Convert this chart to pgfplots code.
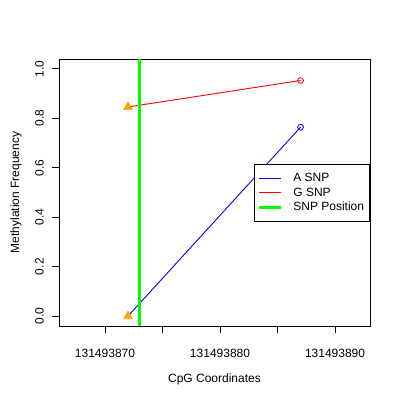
\documentclass[border=0pt]{standalone}
\usepackage{fontspec}
\setmainfont{Liberation Sans}
\usepackage{pgfplots}
\pgfplotsset{compat=1.18}
\definecolor{rorange}{HTML}{FFA500}
\definecolor{snpgreen}{HTML}{00FF00}
\definecolor{rblue}{HTML}{0000FF}
\definecolor{rred}{HTML}{FF0000}
% x values are given as offsets from 131493860 (TeX's floats cannot hold 9 digits)
\begin{document}
\fontsize{12bp}{14bp}\selectfont
\begin{tikzpicture}
\path[use as bounding box, fill=white] (0,0) rectangle (400bp,400bp);
\begin{axis}[
  at={(59bp,74bp)}, anchor=south west,
  scale only axis, width=311bp, height=267bp,
  xmin=6, xmax=33.04, ymin=-0.04, ymax=1.04,
  axis line style={line width=0.8bp},
  every tick/.style={black, line width=0.8bp},
  tick align=outside, major tick length=7bp,
  xtick={10,15,20,25,30},
  xticklabels={131493870,,131493880,,131493890},
  ytick={0,0.2,0.4,0.6,0.8,1.0},
  yticklabels={0.0,0.2,0.4,0.6,0.8,1.0},
  xtick pos=bottom, ytick pos=left,
  /pgf/number format/assume math mode=true,
  tick label style={font=\fontsize{12bp}{14bp}\selectfont},
  xticklabel style={anchor=center, yshift=-20bp},
  yticklabel style={rotate=90, anchor=center, yshift=12.5bp},
  xlabel={CpG Coordinates},
  ylabel={Methylation Frequency},
  label style={font=\fontsize{12bp}{14bp}\selectfont},
  xlabel style={at={(axis description cs:0.5,0)}, anchor=center, yshift=-53bp},
  ylabel style={at={(axis description cs:0,0.5)}, anchor=center, rotate=0, yshift=43bp},
  legend cell align=left,
  legend image code/.code={\draw[#1] (0bp,0bp) -- (22bp,0bp);},
  legend style={at={(1,0.607)}, anchor=north east, draw=black, line width=0.8bp,
    font=\fontsize{12bp}{14bp}\selectfont,
    inner xsep=3.5bp, inner ysep=8bp, row sep=3bp, column sep=9bp,
    nodes={inner xsep=2bp, inner ysep=0pt, text height=9bp, text depth=2.7bp}},
]
\addplot[rblue, line width=0.9bp] coordinates {(12,0.0) (27,0.764)};
\addlegendentry{A SNP}
\addplot[rred, line width=0.9bp] coordinates {(12,0.846) (27,0.953)};
\addlegendentry{G SNP}
\addplot[snpgreen, line width=2.2bp] coordinates {(13,-0.04) (13,1.04)};
\addlegendentry{SNP Position}
\addplot[only marks, mark=o, rblue, mark size=2.9bp, mark options={fill=white, line width=0.8bp}, forget plot]
  coordinates {(27,0.764)};
\addplot[only marks, mark=o, rred, mark size=2.9bp, mark options={fill=white, line width=0.8bp}, forget plot]
  coordinates {(27,0.953)};
\addplot[only marks, mark=triangle*, mark size=5.2bp, mark options={fill=rorange, draw=rorange}, forget plot]
  coordinates {(12,0.0) (12,0.846)};
\end{axis}
\end{tikzpicture}
\end{document}
